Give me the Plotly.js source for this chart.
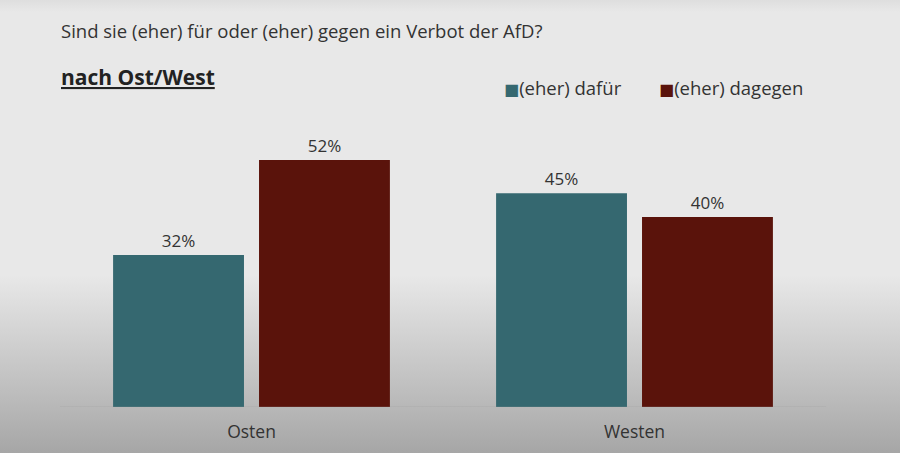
<!DOCTYPE html>
<html>
<head>
<meta charset="utf-8">
<script src="https://cdn.plot.ly/plotly-3.0.1.min.js"></script>
<style>
html,body{margin:0;padding:0;width:900px;height:453px;overflow:hidden;
background:linear-gradient(to bottom,#dedede 0px,#e8e8e8 12px,#e8e8e8 275px,#c2c2c2 380px,#a6a6a6 453px);}
#chart{width:900px;height:453px;}
</style>
</head>
<body>
<div id="chart"></div>
<script>
const categories = ["Osten", "Westen"];
const seriesNames = ["(eher) dafür", "(eher) dagegen"];
const dafuer = [32, 45];
const dagegen = [52, 40];
const title = "Sind sie (eher) für oder (eher) gegen ein Verbot der AfD?";
const subtitle = "nach Ost/West";

const fontFam = "Open Sans, Noto Sans, sans-serif";
const textColor = "#333333";
const colors = ["#356870", "#5a130b"];

const traces = [
  {type:"bar", name:seriesNames[0], x:categories, y:dafuer,
   marker:{color:colors[0], line:{width:0}},
   text:dafuer.map(v=>v+"%"), textposition:"outside", cliponaxis:false,
   textfont:{family:fontFam, size:17, color:textColor}, hoverinfo:"skip"},
  {type:"bar", name:seriesNames[1], x:categories, y:dagegen,
   marker:{color:colors[1], line:{width:0}},
   text:dagegen.map(v=>v+"%"), textposition:"outside", cliponaxis:false,
   textfont:{family:fontFam, size:17, color:textColor}, hoverinfo:"skip"}
];

// legend drawn as annotations for exact placement
const legendX = [502, 657];
const legendAnn = seriesNames.map((n,i)=>({
  xref:"paper", yref:"paper", x:(legendX[i]-60)/766, y:1.0, xanchor:"left", yanchor:"middle",
  yshift:122-87, showarrow:false,
  text:"<span style='color:"+colors[i]+";font-family:DejaVu Sans;font-size:16px'>■</span>"+n,
  font:{family:fontFam, size:18.5, color:textColor}
}));

const layout = {
  width:900, height:453,
  paper_bgcolor:"rgba(0,0,0,0)", plot_bgcolor:"rgba(0,0,0,0)",
  margin:{l:60, r:74, t:122, b:46},
  barmode:"group", bargap:0.238, bargroupgap:0.103,
  font:{family:fontFam, color:textColor},
  showlegend:false,
  xaxis:{type:"category", range:[-0.5,1.5], showgrid:false, zeroline:false,
    showline:false, ticks:"", ticklabelstandoff:12,
    tickfont:{family:fontFam, size:17.5, color:textColor}},
  yaxis:{range:[0,60], visible:false, showgrid:false, zeroline:false},
  shapes:[{type:"line", xref:"paper", yref:"y", x0:0, x1:1, y0:0, y1:0,
    line:{color:"rgba(150,150,150,0.35)", width:1}}],
  annotations:[
    {xref:"paper", yref:"paper", x:-0.0013, y:1.0, xanchor:"left", yanchor:"middle",
     yshift:122-30, text:title, showarrow:false,
     font:{family:fontFam, size:18.5, color:textColor}},
    {xref:"paper", yref:"paper", x:-0.0013, y:1.0, xanchor:"left", yanchor:"middle",
     yshift:122-77, text:"<b><u>"+subtitle+"</u></b>", showarrow:false,
     font:{family:fontFam, size:21, color:"#222222"}}
  ].concat(legendAnn)
};

Plotly.newPlot("chart", traces, layout, {displayModeBar:false, staticPlot:true});
</script>
</body>
</html>
